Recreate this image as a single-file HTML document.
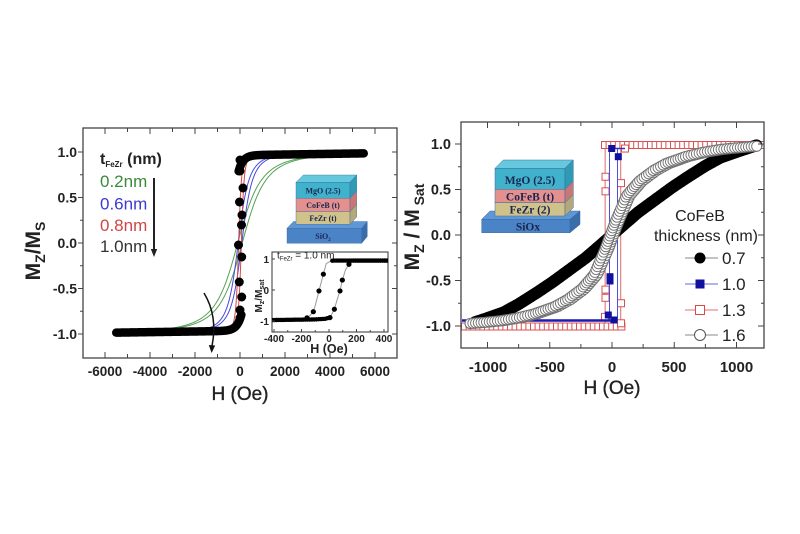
<!DOCTYPE html>
<html><head><meta charset="utf-8"><style>
html,body{margin:0;padding:0;background:#fff;}
svg{display:block;}
text{font-family:"Liberation Sans",Arial,sans-serif;fill:#222;}
.sf{font-family:"Liberation Serif","Times New Roman",serif;font-weight:bold;fill:#1b2550;}
</style></head><body>
<svg id="s" width="800" height="534" viewBox="0 0 800 534" xmlns="http://www.w3.org/2000/svg">
<defs>
<clipPath id="cl"><rect x="83" y="128" width="314" height="230"/></clipPath>
<clipPath id="cr"><rect x="461" y="122" width="303" height="226"/></clipPath>
<clipPath id="ci"><rect x="272" y="252" width="116" height="80"/></clipPath>
</defs>
<rect width="800" height="534" fill="#fff"/>

<!-- ============ LEFT CHART ============ -->
<g clip-path="url(#cl)">
<g id="lcurves"></g>
<g id="lblack"></g>
</g>
<!-- curved arrow -->
<path d="M204,293 Q218,316 212,346" fill="none" stroke="#111" stroke-width="1.5"/>
<polygon points="208.8,345 215.2,345.5 211.6,353" fill="#111"/>

<!-- legend -->
<text x="100" y="164" font-size="16" font-weight="bold">t<tspan font-size="8" dy="3">FeZr</tspan><tspan dy="-3"> (nm)</tspan></text>
<text x="100" y="187" font-size="17" style="fill:#3a8a3a">0.2nm</text>
<text x="100" y="209.5" font-size="17" style="fill:#3a3ad6">0.6nm</text>
<text x="100" y="231" font-size="17" style="fill:#d04545">0.8nm</text>
<text x="100" y="252" font-size="17" style="fill:#333">1.0nm</text>
<line x1="154" y1="178" x2="154" y2="251" stroke="#222" stroke-width="2"/>
<polygon points="150.8,249 157.2,249 154,257" fill="#222"/>

<!-- left stack diagram -->
<g stroke="#3d6aa0" stroke-width="0.4">
<polygon points="287,228.3 293.5,221.5 367.3,221.5 361.7,228.3" fill="#5f97d6"/>
<rect x="287" y="228.3" width="74.7" height="15" fill="#4a84c6"/>
<polygon points="361.7,228.3 367.3,221.5 367.3,236.5 361.7,243.3" fill="#3a6eaa"/>
<polygon points="296,182.3 303.3,175 356.7,175 350,182.3" fill="#66c8dd"/>
<rect x="296" y="182.3" width="54" height="16" fill="#40b2cb"/>
<rect x="296" y="198.3" width="54" height="13.4" fill="#e3908f"/>
<rect x="296" y="211.7" width="54" height="12.6" fill="#cfc28b"/>
<polygon points="350,182.3 356.7,175 356.7,191 350,198.3" fill="#2f9ab4"/>
<polygon points="350,198.3 356.7,191 356.7,204.4 350,211.7" fill="#c97676"/>
<polygon points="350,211.7 356.7,204.4 356.7,217 350,224.3" fill="#b5a877"/>
</g>
<text class="sf" x="323" y="193.3" font-size="8" text-anchor="middle">MgO (2.5)</text>
<text class="sf" x="323" y="208" font-size="8" text-anchor="middle">CoFeB (t)</text>
<text class="sf" x="323" y="221" font-size="8" text-anchor="middle">FeZr (t)</text>
<text class="sf" x="323" y="239" font-size="8" text-anchor="middle">SiO<tspan font-size="5" dy="2">2</tspan></text>

<!-- inset -->
<rect x="272" y="252" width="116" height="80" fill="#fff" stroke="#333" stroke-width="1"/>
<g id="inset" clip-path="url(#ci)"></g>
<g id="iticks"></g>
<text x="277" y="258.5" font-size="10">t<tspan font-size="6" dy="2">FeZr</tspan><tspan dy="-2"> = 1.0 nm</tspan></text>
<text x="269" y="263" font-size="10" font-weight="bold" text-anchor="end">1</text>
<text x="269" y="294" font-size="10" font-weight="bold" text-anchor="end">0</text>
<text x="269" y="325" font-size="10" font-weight="bold" text-anchor="end">-1</text>
<g font-size="10" font-weight="bold" text-anchor="middle">
<text x="274" y="342">-400</text><text x="301.5" y="342">-200</text><text x="329" y="342">0</text><text x="356.5" y="342">200</text><text x="384" y="342">400</text>
</g>
<text x="329" y="353" font-size="12.5" font-weight="bold" text-anchor="middle">H (Oe)</text>
<g transform="translate(262,296) rotate(-90)"><text text-anchor="middle" font-size="10" font-weight="bold">M<tspan font-size="7" dy="2">z</tspan><tspan dy="-2">/M</tspan><tspan font-size="7" dy="2">sat</tspan></text></g>

<!-- left frame -->
<rect x="83" y="128" width="314" height="230" fill="none" stroke="#444" stroke-width="1.3"/>
<g id="lticks"></g>
<g font-size="14" font-weight="bold" text-anchor="end">
<text x="77" y="157">1.0</text><text x="77" y="202.5">0.5</text><text x="77" y="248">0.0</text><text x="77" y="293.5">-0.5</text><text x="77" y="339">-1.0</text>
</g>
<g font-size="13.5" font-weight="bold" text-anchor="middle">
<text x="105" y="376">-6000</text><text x="150" y="376">-4000</text><text x="195" y="376">-2000</text><text x="240" y="376">0</text><text x="285" y="376">2000</text><text x="330" y="376">4000</text><text x="375" y="376">6000</text>
</g>
<text x="240" y="400" font-size="19" text-anchor="middle" stroke="#222" stroke-width="0.35">H (Oe)</text>
<g transform="translate(40,251) rotate(-90)"><text text-anchor="middle" font-size="21" font-weight="bold">M<tspan font-size="14" dy="5">Z</tspan><tspan dy="-5">/M</tspan><tspan font-size="14" dy="5">S</tspan></text></g>

<!-- ============ RIGHT CHART ============ -->
<g clip-path="url(#cr)">
<g id="rred"></g>
<g id="rblue"></g>
<g id="rblack"></g>
<g id="rwhite"></g>
</g>

<!-- right stack diagram -->
<g stroke="#3d6aa0" stroke-width="0.5">
<polygon points="481.7,219.3 490,211 580,211 570,219.3" fill="#5f97d6"/>
<rect x="481.7" y="219.3" width="88.3" height="13.4" fill="#4a84c6"/>
<polygon points="570,219.3 580,211 580,224.4 570,232.7" fill="#3a6eaa"/>
<polygon points="495,168.3 503.3,160 573.3,160 565,168.3" fill="#66c8dd"/>
<rect x="495" y="168.3" width="70" height="21" fill="#40b2cb"/>
<rect x="495" y="189.3" width="70" height="13.4" fill="#e3908f"/>
<rect x="495" y="202.7" width="70" height="13.3" fill="#cfc28b"/>
<polygon points="565,168.3 573.3,160 573.3,181 565,189.3" fill="#2f9ab4"/>
<polygon points="565,189.3 573.3,181 573.3,194.4 565,202.7" fill="#c97676"/>
<polygon points="565,202.7 573.3,194.4 573.3,207.7 565,216" fill="#b5a877"/>
</g>
<text class="sf" x="530" y="184" font-size="11.5" text-anchor="middle">MgO (2.5)</text>
<text class="sf" x="530" y="200.3" font-size="11.5" text-anchor="middle">CoFeB (t)</text>
<text class="sf" x="530" y="213.7" font-size="11.5" text-anchor="middle">FeZr (2)</text>
<text class="sf" x="528" y="230.5" font-size="11.5" text-anchor="middle">SiOx</text>

<!-- right legend -->
<text x="700" y="221" font-size="16" text-anchor="middle">CoFeB</text>
<text x="706" y="241" font-size="16" text-anchor="middle">thickness (nm)</text>
<line x1="685" y1="258" x2="718" y2="258" stroke="#888" stroke-width="1"/>
<circle cx="700" cy="258" r="5.5" fill="#000"/>
<line x1="685" y1="284" x2="718" y2="284" stroke="#6666dd" stroke-width="1"/>
<rect x="695.5" y="279.5" width="9" height="9" fill="#1010a0"/>
<line x1="685" y1="310" x2="718" y2="310" stroke="#e07070" stroke-width="1"/>
<rect x="695.5" y="305.5" width="9" height="9" fill="#fff" stroke="#d84848" stroke-width="1"/>
<line x1="685" y1="335" x2="718" y2="335" stroke="#888" stroke-width="1"/>
<circle cx="700" cy="335" r="5.5" fill="#fff" stroke="#555" stroke-width="1"/>
<g font-size="17">
<text x="722" y="264">0.7</text><text x="722" y="290">1.0</text><text x="722" y="316">1.3</text><text x="722" y="341">1.6</text>
</g>

<!-- right frame -->
<rect x="461" y="122" width="303" height="226" fill="none" stroke="#444" stroke-width="1.3"/>
<g id="rticks"></g>
<g font-size="14.5" font-weight="bold" text-anchor="end">
<text x="451" y="149">1.0</text><text x="451" y="194.5">0.5</text><text x="451" y="240">0.0</text><text x="451" y="285.5">-0.5</text><text x="451" y="331">-1.0</text>
</g>
<g font-size="15" font-weight="bold" text-anchor="middle">
<text x="488" y="372">-1000</text><text x="550" y="372">-500</text><text x="612" y="372">0</text><text x="674" y="372">500</text><text x="736.5" y="372">1000</text>
</g>
<text x="612" y="394" font-size="19" text-anchor="middle" stroke="#222" stroke-width="0.35">H (Oe)</text>
<g transform="translate(419,227) rotate(-90)"><text text-anchor="middle" font-size="21" font-weight="bold">M<tspan font-size="14" dy="5">Z</tspan><tspan dy="-5"> / M</tspan><tspan font-size="14" dy="5"> Sat</tspan></text></g>
</svg>

<script>
(function(){
const NS="http://www.w3.org/2000/svg";
function el(t,a,p){const e=document.createElementNS(NS,t);for(const k in a)e.setAttribute(k,a[k]);p.appendChild(e);return e;}
function $(id){return document.getElementById(id);}
function pl(pts,a,p){a.points=pts.map(q=>q[0].toFixed(2)+","+q[1].toFixed(2)).join(" ");if(!a.fill)a.fill="none";return el("polyline",a,p);}
function interp(tab,h){const s=h<0?-1:1;h=Math.abs(h);const n=tab.length;if(h>=tab[n-1][0])return s*tab[n-1][1];for(let i=1;i<n;i++){if(h<=tab[i][0]){const a=tab[i-1],b=tab[i];return s*(a[1]+(b[1]-a[1])*(h-a[0])/(b[0]-a[0]));}}return 0;}
function linInterp(tab,h){for(let i=1;i<tab.length;i++){if(h<=tab[i][0]){const a=tab[i-1],b=tab[i];return a[1]+(b[1]-a[1])*(h-a[0])/(b[0]-a[0]);}}return tab[tab.length-1][1];}
function tick(g,x1,y1,x2,y2){el("line",{x1:x1,y1:y1,x2:x2,y2:y2,stroke:"#444","stroke-width":1},g);}

/* ---------- LEFT ---------- */
const LX=h=>240+h*0.0225, LY=m=>243-m*91;
const sig=(h,a)=>h/Math.sqrt(h*h+a*a);
const gc=$("lcurves");
function curve(a,hc,h0,h1,col){[hc,-hc].forEach(sh=>{const p=[];for(let h=h0;h<=h1;h+=15)p.push([LX(h),LY(sig(h-sh,a))]);pl(p,{stroke:col,"stroke-width":1},gc);});}
curve(1100,100,-4000,5300,"#55a055");
curve(500,80,-2100,4500,"#4848dc");
curve(130,60,-1200,2500,"#d84848");

const gb=$("lblack");
const Mlow=h=>-0.985+0.02*(h+5500)/5500+0.13*Math.exp(h/200);
let p=[];for(let h=-5500;h<=60;h+=20)p.push([LX(h),LY(Mlow(h))]);
pl(p,{stroke:"#000","stroke-width":8.5,"stroke-linecap":"round","stroke-linejoin":"round"},gb);
p=[];for(let h=-60;h<=5500;h+=20)p.push([LX(h),LY(-Mlow(-h))]);
pl(p,{stroke:"#000","stroke-width":8.5,"stroke-linecap":"round","stroke-linejoin":"round"},gb);
[[240,160],[240,171],[243,188],[239.5,202],[242,215],[241.5,225],[238.5,245],[241.7,257],[239.3,282],[241.7,297],[240,310],[240,318]].forEach(q=>el("circle",{cx:q[0],cy:q[1],r:4.5,fill:"#000"},gb));

/* left ticks */
const lt=$("lticks");
for(let h=-6000;h<=6000;h+=1000){const x=LX(h),L=(h%2000===0)?6:4;tick(lt,x,358,x,358-L);tick(lt,x,128,x,128+L);}
for(let m=-1;m<=1.001;m+=0.25){const y=LY(m),maj=Math.abs(m*2-Math.round(m*2))<1e-6;const L=maj?5:3;tick(lt,83-L,y,83,y);tick(lt,397,y,397-L,y);}

/* inset */
const IX=h=>329+h*0.1375, IY=m=>290-m*31;
const gi=$("inset");
const desc=[[-420,-0.97],[-260,-0.96],[-200,-0.94],[-150,-0.88],[-114,-0.70],[-100,-0.5],[-73,-0.03],[-41,0.51],[-20,0.85],[10,0.93],[30,0.95],[430,0.95]];
const asc=[[-420,-0.97],[-100,-0.95],[-30,-0.93],[7,-0.89],[39,-0.62],[60,-0.3],[80,-0.03],[97,0.32],[120,0.65],[145,0.83],[180,0.93],[230,0.95],[430,0.95]];
[desc,asc].forEach(t=>{const q=[];for(let h=-420;h<=430;h+=4)q.push([IX(h),IY(linInterp(t,h))]);pl(q,{stroke:"#999","stroke-width":1},gi);});
for(let h=-410;h<=-150;h+=14)el("circle",{cx:IX(h),cy:IY(linInterp(asc,h)),r:2.2,fill:"#000"},gi);
for(let h=-140;h<=0;h+=16)el("circle",{cx:IX(h),cy:IY(linInterp(asc,h)),r:2.2,fill:"#000"},gi);
for(let h=24;h<=430;h+=14)el("circle",{cx:IX(h),cy:IY(linInterp(desc,h)),r:2.2,fill:"#000"},gi);
for(let h=180;h<=430;h+=16)el("circle",{cx:IX(h),cy:IY(0.95),r:2.2,fill:"#000"},gi);
[[-114,-0.70],[-73,-0.03],[-41,0.51],[-160,-0.9],[7,-0.89],[39,-0.62],[80,-0.03],[97,0.32],[145,0.83]].forEach(q=>el("circle",{cx:IX(q[0]),cy:IY(q[1]),r:2.6,fill:"#000"},gi));
const it=$("iticks");
for(let h=-400;h<=400;h+=100){const L=(h%200===0)?3:2;tick(it,IX(h),332,IX(h),332-L);}
[-1,0,1].forEach(m=>tick(it,272,IY(m),275,IY(m)));

/* ---------- RIGHT ---------- */
const RX=h=>612+h*0.1245, RY=m=>235-m*91;
function sq(x,y,s,a,pp){a.x=x-s/2;a.y=y-s/2;a.width=s;a.height=s;return el("rect",a,pp);}
const gr=$("rred");
pl([[RX(-1190),RY(-1)],[RX(70),RY(-1)],[RX(70),RY(1)],[RX(1230),RY(1)]],{stroke:"#e06a6a","stroke-width":1},gr);
pl([[RX(1230),RY(1)],[RX(-55),RY(1)],[RX(-55),RY(-1)],[RX(-1190),RY(-1)]],{stroke:"#e06a6a","stroke-width":1},gr);
for(let x=465;x<=622;x+=4.6)sq(x,326.5,7,{fill:"#fff",stroke:"#d85050","stroke-width":1},gr);
for(let x=605;x<=764;x+=4.6)sq(x,145,7,{fill:"#fff",stroke:"#d85050","stroke-width":1},gr);
[[605.5,0.64],[605.5,0.48],[605.5,-0.6],[605.5,-0.69],[605,-0.9],[621,0.57],[621,-0.75],[621,-0.97],[625,0.95]].forEach(q=>sq(q[0],RY(q[1]),7,{fill:"#fff",stroke:"#d85050","stroke-width":1},gr));

const gbl=$("rblue");
el("line",{x1:609.5,y1:148.5,x2:609.5,y2:320.5,stroke:"#5050e0","stroke-width":1},gbl);
el("line",{x1:617.5,y1:148.5,x2:617.5,y2:320.5,stroke:"#5050e0","stroke-width":1},gbl);
pl([[462,320.5],[617.5,320.5]],{stroke:"#1a1ab4","stroke-width":2.5},gbl);
pl([[609.5,148.5],[625,148.5]],{stroke:"#3030c8","stroke-width":1.5},gbl);
[[611.7,148.5],[618.3,156.7],[610,276.7],[610,281],[608.3,315],[614,320]].forEach(q=>sq(q[0],q[1],7,{fill:"#1010a0"},gbl));

const btab=[[0,0],[100,0.12],[210,0.25],[330,0.37],[480,0.52],[600,0.63],[750,0.76],[870,0.85],[1015,0.92],[1160,0.985]];
p=[];for(let h=-1100;h<=1160;h+=10)p.push([RX(h),RY(interp(btab,h))]);
pl(p,{stroke:"#000","stroke-width":12,"stroke-linecap":"round","stroke-linejoin":"round"},$("rblack"));

const gw=$("rwhite");
const wtab=[[0,0],[40,0.15],[130,0.44],[230,0.6],[345,0.72],[450,0.8],[613,0.88],[750,0.925],[881,0.955],[1000,0.972],[1160,0.99]];
[15,-15].forEach(sh=>{let last=null;for(let h=-1140;h<=1165;h+=2){const x=RX(h),y=RY(interp(wtab,h-sh)*0.985);if(!last||Math.hypot(x-last[0],y-last[1])>=2.6){el("circle",{cx:x.toFixed(2),cy:y.toFixed(2),r:5,fill:"#fff",stroke:"#707070","stroke-width":0.9},gw);last=[x,y];}}});

/* right ticks */
const rt=$("rticks");
for(let h=-1000;h<=1000;h+=250){const x=RX(h),L=(h%500===0)?6:4;tick(rt,x,348,x,348-L);tick(rt,x,122,x,122+L);}
for(let m=-1.25;m<=1.251;m+=0.25){const y=RY(m);if(y<122||y>348)continue;const maj=Math.abs(m*2-Math.round(m*2))<1e-6;const L=maj?6:3;tick(rt,461-L,y,461,y);tick(rt,764,y,764-L,y);}
})();
</script>
</body></html>
